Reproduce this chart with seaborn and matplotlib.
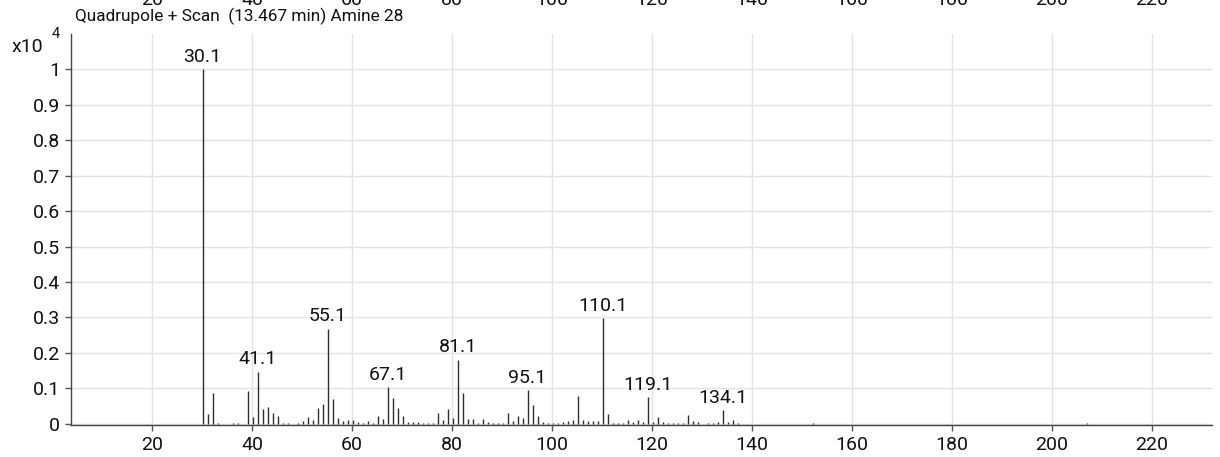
import numpy as np
import pandas as pd
import seaborn as sns
import matplotlib
matplotlib.use("Agg")
import matplotlib.pyplot as plt
import matplotlib.transforms as mtransforms

# spectrum, abundance in units of 10^4
mz = [30.1, 31.1, 32.1, 33.1, 36.1, 37.1, 39.1, 40.1, 41.1, 42.1, 43.1, 44.1,
      45.1, 46.1, 47.1, 49.1, 50.1, 51.1, 52.1, 53.1, 54.1, 55.1, 56.1, 57.1,
      58.1, 59.1, 60.1, 61.1, 62.1, 63.1, 64.1, 65.1, 66.1, 67.1, 68.1, 69.1,
      70.1, 71.1, 72.1, 73.1, 74.1, 75.1, 76.1, 77.1, 78.1, 79.1, 80.1, 81.1,
      82.1, 83.1, 84.1, 85.1, 86.1, 87.1, 88.1, 89.1, 90.1, 91.1, 92.1, 93.1,
      94.1, 95.1, 96.1, 97.1, 98.1, 99.1, 100.1, 101.1, 102.1, 103.1, 104.1,
      105.1, 106.1, 107.1, 108.1, 109.1, 110.1, 111.1, 112.1, 113.1, 114.1,
      115.1, 116.1, 117.1, 118.1, 119.1, 120.1, 121.1, 122.1, 123.1, 124.1,
      125.1, 126.1, 127.1, 128.1, 129.1, 131.1, 132.1, 133.1, 134.1, 135.1,
      136.1, 137.1, 152.1, 207.0]
abundance = [1.000, 0.028, 0.087, 0.002, 0.002, 0.003, 0.092, 0.020, 0.146, 0.042,
             0.047, 0.030, 0.021, 0.002, 0.002, 0.003, 0.008, 0.019, 0.011, 0.045,
             0.055, 0.268, 0.070, 0.017, 0.007, 0.009, 0.010, 0.005, 0.003, 0.007,
             0.003, 0.022, 0.014, 0.103, 0.073, 0.045, 0.022, 0.004, 0.004, 0.005,
             0.003, 0.002, 0.002, 0.031, 0.011, 0.042, 0.017, 0.180, 0.087, 0.014,
             0.013, 0.003, 0.013, 0.004, 0.003, 0.002, 0.003, 0.030, 0.008, 0.021,
             0.017, 0.094, 0.053, 0.022, 0.005, 0.002, 0.003, 0.003, 0.005, 0.006,
             0.009, 0.077, 0.009, 0.006, 0.007, 0.006, 0.298, 0.026, 0.003, 0.002,
             0.003, 0.009, 0.005, 0.010, 0.004, 0.074, 0.004, 0.019, 0.005, 0.003,
             0.002, 0.003, 0.003, 0.023, 0.008, 0.004, 0.002, 0.002, 0.004, 0.037,
             0.005, 0.011, 0.002, 0.001, 0.002]
labelled = [30.1, 41.1, 55.1, 67.1, 81.1, 95.1, 110.1, 119.1, 134.1]

x_ticks = [20, 40, 60, 80, 100, 120, 140, 160, 180, 200, 220]
y_ticks = [0, 0.1, 0.2, 0.3, 0.4, 0.5, 0.6, 0.7, 0.8, 0.9, 1.0]
y_labels = ["0", "0.1", "0.2", "0.3", "0.4", "0.5", "0.6", "0.7", "0.8", "0.9", "1"]

df = pd.DataFrame({"mz": mz, "abundance": abundance})

sns.set_style("whitegrid", {"grid.color": "#e3e3e3", "axes.edgecolor": "#444444"})
plt.rcParams["font.family"] = ["Roboto", "DejaVu Sans"]

fig = plt.figure(figsize=(12.2, 4.57), dpi=100)
ax = fig.add_axes([71 / 1220, 1 - 425 / 457, (1212 - 71) / 1220, (425 - 34) / 457])

ax.vlines(df["mz"], 0, df["abundance"], color="#2e2e2e", linewidth=1.0)

for m in labelled:
    a = df.loc[df["mz"] == m, "abundance"].iloc[0]
    ax.annotate(f"{m:.1f}", (m, a), xytext=(0, 2.5), textcoords="offset points",
                ha="center", va="bottom", fontsize=14, color="#111111")

ax.set_xlim(3.8, 232)
ax.set_ylim(-0.004, 1.1)
ax.set_xticks(x_ticks)
ax.set_yticks(y_ticks)
ax.set_yticklabels(y_labels)
ax.tick_params(axis="both", labelsize=14, length=4.5, width=1,
               direction="out", left=True, bottom=True, pad=3.2,
               colors="#555555", labelcolor="#111111")
ax.grid(True, linewidth=1.0)
for s in ["top", "right"]:
    ax.spines[s].set_visible(False)
for s in ["left", "bottom"]:
    ax.spines[s].set_linewidth(1.0)

# header
fig.text(75 / 1220, 1 - 16 / 457, "Quadrupole + Scan  (13.467 min) Amine 28",
         ha="left", va="center", fontsize=12.4, color="#111111")
fig.text(12 / 1220, 1 - 47.5 / 457, "x10", ha="left", va="center", fontsize=14, color="#111111")
fig.text(52 / 1220, 1 - 34 / 457, "4", ha="left", va="center", fontsize=10.5, color="#111111")

# cut-off tick labels of the panel above
trans = mtransforms.blended_transform_factory(ax.transData, fig.transFigure)
for t in x_ticks:
    ax.text(t, 1.0, str(t), transform=trans, ha="center", va="center",
            fontsize=14, color="#111111", clip_on=False)

fig.savefig("out.png", dpi=100)
